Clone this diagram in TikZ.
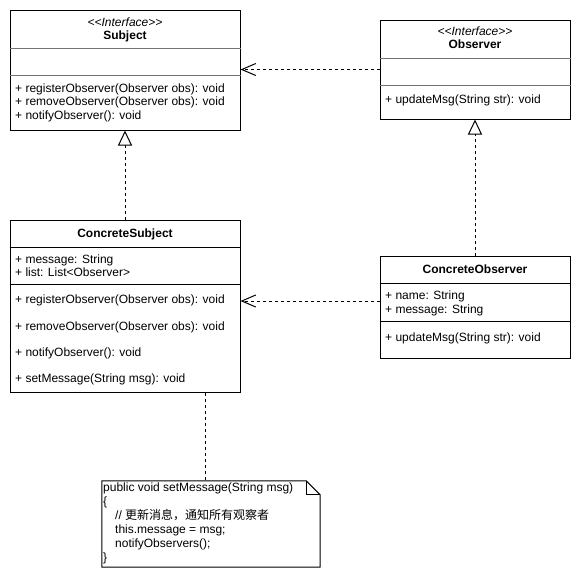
\documentclass[tikz,border=0pt]{standalone}
\usepackage{fontspec}
\setmainfont{Liberation Sans}
\newfontfamily\cjk{Noto Sans CJK SC}
\usetikzlibrary{arrows.meta,positioning}

\tikzset{
  classbox/.style={draw=black,line width=1pt,fill=white,inner sep=0pt},
  divline/.style={draw=black,line width=1pt},
  ifacediv/.style={draw=black!55,line width=1pt},
  umltext/.style={inner sep=0pt,text height=8.5pt,text depth=2.5pt,font=\fontsize{12}{14}\selectfont},
  member/.style={umltext,anchor=west},
  stereo/.style={umltext,font=\fontsize{12}{14}\selectfont\itshape},
  classname/.style={umltext,font=\fontsize{12}{14}\selectfont\bfseries},
  realize/.style={draw=black,line width=1pt,dash pattern=on 3pt off 3pt,
    -{Triangle[open,fill=white,length=15pt,width=14pt]}},
  depend/.style={draw=black,line width=1pt,dash pattern=on 3pt off 3pt,
    -{Straight Barb[length=14pt,width=12pt]}},
  notelink/.style={draw=black,line width=1pt,dash pattern=on 3pt off 3pt},
  notebox/.style={draw=black,line width=1pt,fill=white,line join=miter}
}

\begin{document}
\begin{tikzpicture}[x=1pt,y=-1pt]
  \useasboundingbox (0,0) rectangle (581,581);
  \begin{scope}[every node/.style={classbox}]
    \node[minimum width=230pt,minimum height=120pt] (subject) at (125,70) {};
    \node[minimum width=190pt,minimum height=99pt] (observer) at (475,69.5) {};
    \node[minimum width=230pt,minimum height=172pt] (concsubject) at (125,306) {};
    \node[minimum width=190pt,minimum height=102pt] (concobserver) at (475,307) {};
  \end{scope}

  % compartments
  \foreach \n/\y in {subject/48,subject/75,observer/58,observer/85}
    \draw[ifacediv] (\n.west |- 0,\y) -- (\n.east |- 0,\y);
  \foreach \n/\y in {concsubject/247,concsubject/284,concobserver/283,concobserver/321}
    \draw[divline] (\n.west |- 0,\y) -- (\n.east |- 0,\y);

  % Subject
  \node[stereo] (subjectst) at (125,23) {<\kern0pt<Interface>\kern0pt>};
  \node[classname] (subjectnm) at (125,36) {Subject};
  \foreach \y/\t in {89/{+ registerObserver(Observer obs): void},
                     102/{+ removeObserver(Observer obs): void},
                     116/{+ notifyObserver(): void}}
    \node[member] at (15,\y) {\t};

  % Observer
  \node[stereo] (observerst) at (475,32) {<\kern0pt<Interface>\kern0pt>};
  \node[classname] (observernm) at (475,45) {Observer};
  \node[member] (observerop) at (385,100) {+ updateMsg(String str): void};

  % ConcreteSubject
  \node[classname] (concsubjectnm) at (125,234) {ConcreteSubject};
  \foreach \y/\t in {260/{+ message: String},
                     273/{+ list: List<Observer>},
                     300/{+ registerObserver(Observer obs): void},
                     327/{+ removeObserver(Observer obs): void},
                     353/{+ notifyObserver(): void},
                     379/{+ setMessage(String msg): void}}
    \node[member] at (15,\y) {\t};

  % ConcreteObserver
  \node[classname] (concobservernm) at (475,270) {ConcreteObserver};
  \foreach \y/\t in {296/{+ name: String},
                     310/{+ message: String},
                     338/{+ updateMsg(String str): void}}
    \node[member] at (385,\y) {\t};

  % note
  \node[inner sep=0pt,minimum width=218pt,minimum height=86pt] (note) at (211,524) {};
  \draw[notebox] (note.south west) -- (note.north west) -- ([xshift=-14pt]note.north east)
    -- ([yshift=-14pt]note.north east) -- (note.south east) -- cycle;
  \draw[notebox,fill=none] ([xshift=-14pt]note.north east) |- ([yshift=-14pt]note.north east);
  \foreach \y/\t in {488/{public void setMessage(String msg)},
                     502/{\{},
                     516/{\hspace*{12pt}// {\cjk 更新消息，通知所有观察者}},
                     530/{\hspace*{12pt}this.message = msg;},
                     544/{\hspace*{12pt}notifyObservers();},
                     558/{\}}}
    \node[member] at (103,\y) {\t};

  % connectors
  \coordinate (notepin) at (205,481);
  \coordinate (depfrom) at ([yshift=6pt]concobserver.west);
  \draw[realize] (concsubject.north) -- (subject.south);
  \draw[realize] (concobserver.north) -- (observer.south);
  \draw[depend] (observer.west) -- (subject.east |- observer.west);
  \draw[depend] (depfrom) -- (concsubject.east |- depfrom);
  \draw[notelink] (concsubject.south -| notepin) -- (notepin);
\end{tikzpicture}
\end{document}
